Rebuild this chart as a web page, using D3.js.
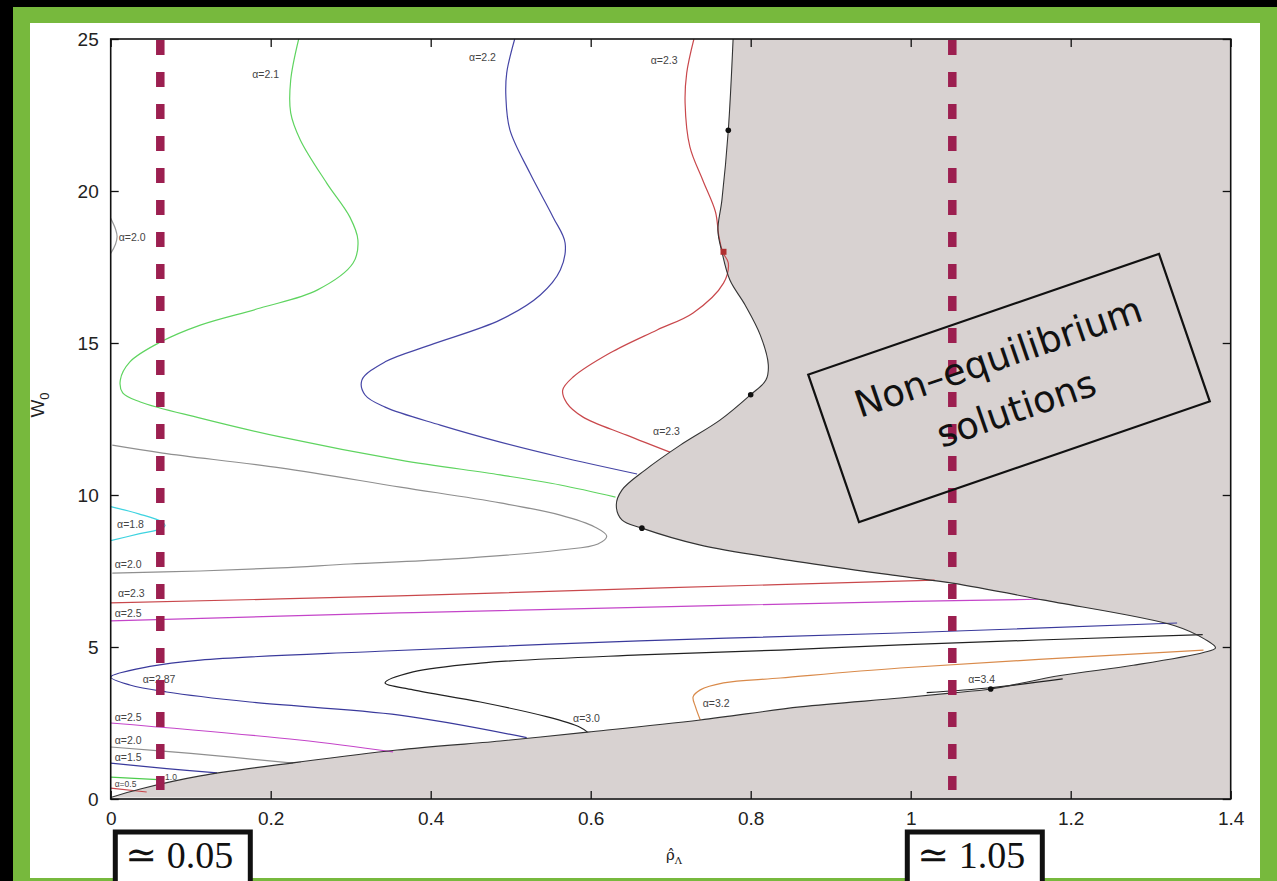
<!DOCTYPE html>
<html>
<head>
<meta charset="utf-8">
<script src="https://cdn.jsdelivr.net/npm/d3@7"></script>
<style>
  html, body { margin: 0; padding: 0; background: #000; }
  svg { display: block; }
</style>
</head>
<body>
<svg width="1277" height="881"></svg>
<script>
// boundary of the non-equilibrium region (rho, W0), top -> tip -> origin
var boundary = [[0.778,25],[0.772,22.0],[0.764,19.7],[0.759,18.7],[0.764,18.0],[0.774,17.07],
  [0.793,16.25],[0.812,15.26],[0.822,14.28],[0.819,13.78],[0.80,13.3],[0.762,12.47],[0.712,11.64],
  [0.668,10.82],[0.639,10.16],[0.632,9.67],[0.639,9.18],[0.664,8.91],[0.736,8.36],[0.861,7.80],
  [0.987,7.33],[1.052,7.10],[1.165,6.55],[1.330,5.70],[1.368,5.25],[1.381,4.97],[1.366,4.82],
  [1.278,4.40],[1.187,4.06],[1.10,3.62],[1.052,3.49],[0.987,3.32],[0.862,3.03],[0.737,2.60],
  [0.596,2.20],[0.487,1.91],[0.358,1.61],[0.237,1.22],[0.112,0.76],[0.037,0.33],[0,0.05]];

var a21 = [[0.235,25],[0.225,23.65],[0.225,22.57],[0.237,21.68],[0.270,20.26],[0.299,19.14],
  [0.309,18.39],[0.303,17.63],[0.258,16.74],[0.187,16.15],[0.112,15.59],[0.062,15.03],[0.024,14.38],
  [0.012,13.78],[0.015,13.36],[0.037,13.06],[0.112,12.53],[0.212,11.91],[0.362,11.15],[0.487,10.66],
  [0.562,10.33],[0.631,9.93]];

var a22 = [[0.505,25],[0.495,23.88],[0.494,23.09],[0.499,22.01],[0.524,20.59],[0.553,19.14],
  [0.568,18.29],[0.562,17.40],[0.537,16.58],[0.487,15.76],[0.399,14.93],[0.343,14.38],[0.314,13.78],
  [0.318,13.29],[0.343,12.89],[0.412,12.30],[0.487,11.74],[0.562,11.25],[0.658,10.69]];

var a23top = [[0.729,25],[0.720,23.88],[0.718,22.89],[0.724,21.45],[0.740,20.36],[0.756,19.31],
  [0.760,18.55],[0.765,17.99],[0.772,17.63],[0.766,16.97],[0.728,15.99],[0.683,15.43],[0.624,14.67],
  [0.578,13.88],[0.565,13.45],[0.570,13.03],[0.590,12.57],[0.645,11.97],[0.699,11.41]];

var a20arc = [[0,19.1],[0.006,18.75],[0.008,18.5],[0.006,18.25],[0,17.95]];

var a20loop = [[0.002,11.64],[0.065,11.38],[0.212,10.89],[0.362,10.26],[0.487,9.74],[0.562,9.34],
  [0.605,8.95],[0.620,8.65],[0.609,8.39],[0.562,8.19],[0.424,7.89],[0.299,7.73],[0.212,7.60],
  [0.112,7.50],[0.002,7.43]];

var a18 = [[0,9.62],[0.035,9.38],[0.064,9.12],[0.068,9.0],[0.064,8.9],[0.035,8.72],[0,8.50]];

var a23low = [[0,6.45],[0.36,6.68],[0.70,6.95],[1.03,7.20]];

var a25up = [[0,5.86],[0.36,6.12],[0.70,6.33],[1.0,6.50],[1.16,6.57]];

var a287 = [[1.333,5.79],[0.986,5.46],[0.661,5.20],[0.336,4.86],[0.112,4.57],[0.049,4.36],
  [0,4.01],[0.024,3.75],[0.070,3.52],[0.174,3.19],[0.361,2.76],[0.520,2.02]];

var a25low = [[0,2.5],[0.236,1.94],[0.353,1.55]];
var a20low = [[0,1.71],[0.10,1.50],[0.228,1.18]];
var a15 = [[0,1.18],[0.07,1.0],[0.133,0.86]];
var a10 = [[0,0.72],[0.065,0.63]];
var a05 = [[0,0.36],[0.045,0.23]];

var a30 = [[1.365,5.41],[0.987,5.07],[0.837,4.90],[0.662,4.74],[0.462,4.47],[0.378,4.18],
  [0.343,3.82],[0.378,3.59],[0.462,3.19],[0.546,2.70],[0.586,2.37],[0.596,2.20]];

var a32 = [[0.737,2.60],[0.731,3.03],[0.728,3.36],[0.737,3.59],[0.766,3.82],[0.837,3.98],
  [0.987,4.31],[1.366,4.90]];

var a34 = [[1.02,3.50],[1.10,3.66],[1.19,3.95]];

var curves = [
  {pts: a21, color: "#5fd460"}, {pts: a22, color: "#4646a6"}, {pts: a23top, color: "#c9484c"},
  {pts: a20arc, color: "#9a9a9a"}, {pts: a20loop, color: "#8f8f8f"}, {pts: a18, color: "#3ed3e0"},
  {pts: a23low, color: "#c9484c"}, {pts: a25up, color: "#c445c9"}, {pts: a287, color: "#3a3a9c"},
  {pts: a25low, color: "#c445c9"}, {pts: a20low, color: "#8f8f8f"}, {pts: a15, color: "#3a3a9c"},
  {pts: a10, color: "#4ccc4c"}, {pts: a05, color: "#c9484c"}, {pts: a30, color: "#222"},
  {pts: a32, color: "#d98a4a"}, {pts: a34, color: "#222"}
];

var labels = [["α=2.1",0.177,23.85],["α=2.2",0.448,24.41],["α=2.3",0.675,24.31],["α=2.3",0.678,12.11],
  ["α=2.0",0.010,18.49],["α=1.8",0.008,9.05],["α=2.0",0.005,7.73],["α=2.3",0.009,6.78],
  ["α=2.5",0.005,6.12],["α=2.87",0.040,3.95],["α=2.5",0.005,2.70],["α=2.0",0.005,1.94],
  ["α=1.5",0.005,1.38],["α=0.5",0.005,0.53],["1.0",0.068,0.76],["α=3.0",0.578,2.66],
  ["α=3.2",0.740,3.16],["α=3.4",1.072,3.95]];

var dots = [[0.772,22.0],[0.80,13.3],[0.664,8.91],[1.10,3.62]];
var squares = [[0.766,18.0]];

var cutoffs = [0.062, 1.052];
var cutoffText = ["≃ 0.05", "≃ 1.05"];
var xTicks = [0, 0.2, 0.4, 0.6, 0.8, 1, 1.2, 1.4];
var yTicks = [0, 5, 10, 15, 20, 25];

var svg = d3.select("svg");

// frame: black edge, green band, white sheet
svg.append("rect").attr("x", 13).attr("y", 7).attr("width", 1264).attr("height", 874).attr("fill", "#77b93d");
svg.append("rect").attr("x", 30).attr("y", 23).attr("width", 1230).attr("height", 855).attr("fill", "#fff");

var x = d3.scaleLinear().domain([0, 1.4]).range([110.7, 1230.7]);
var y = d3.scaleLinear().domain([0, 25]).range([799, 39]);

svg.append("clipPath").attr("id", "clip").append("rect")
  .attr("x", x(0)).attr("y", y(25)).attr("width", x(1.4) - x(0)).attr("height", y(0) - y(25));

var line = d3.line().x(function(d) { return x(d[0]); }).y(function(d) { return y(d[1]); })
  .curve(d3.curveCatmullRom.alpha(0.5));

var plot = svg.append("g").attr("clip-path", "url(#clip)");

// gray non-equilibrium region
plot.append("path")
  .attr("d", line(boundary) + "L" + x(1.4) + "," + y(0) + "L" + x(1.4) + "," + y(25) + "Z")
  .attr("fill", "#d8d2d1").attr("stroke", "none");

plot.selectAll("path.curve").data(curves).enter().append("path")
  .attr("class", "curve")
  .attr("d", function(d) { return line(d.pts); })
  .attr("fill", "none")
  .attr("stroke", function(d) { return d.color; })
  .attr("stroke-width", 1.2);

plot.append("path").attr("d", line(boundary)).attr("fill", "none")
  .attr("stroke", "#333").attr("stroke-width", 1.1);

plot.selectAll("circle.dot").data(dots).enter().append("circle")
  .attr("cx", function(d) { return x(d[0]); }).attr("cy", function(d) { return y(d[1]); })
  .attr("r", 2.8).attr("fill", "#111");

plot.selectAll("rect.sq").data(squares).enter().append("rect")
  .attr("x", function(d) { return x(d[0]) - 3; }).attr("y", function(d) { return y(d[1]) - 3; })
  .attr("width", 6).attr("height", 6).attr("fill", "#b03030");

plot.selectAll("text.lab").data(labels).enter().append("text")
  .attr("x", function(d) { return x(d[1]); }).attr("y", function(d) { return y(d[2]) + 4; })
  .attr("font-family", "Liberation Sans, Arial, sans-serif")
  .attr("font-size", function(d) { return d[0] === "α=0.5" || d[0] === "1.0" ? 8.5 : 10.5; })
  .attr("fill", "#444")
  .text(function(d) { return d[0]; });

// axes with inward ticks on all four sides
function fmt(d) { return String(+d.toFixed(1)); }
var gx = svg.append("g").attr("transform", "translate(0," + y(0) + ")")
  .call(d3.axisBottom(x).tickValues(xTicks).tickFormat(fmt).tickSizeInner(-8).tickSizeOuter(0).tickPadding(13));
var gy = svg.append("g").attr("transform", "translate(" + x(0) + ",0)")
  .call(d3.axisLeft(y).tickValues(yTicks).tickSizeInner(-8).tickSizeOuter(0).tickPadding(12));
svg.append("g").attr("transform", "translate(0," + y(25) + ")")
  .call(d3.axisTop(x).tickValues(xTicks).tickFormat("").tickSizeInner(-8).tickSizeOuter(0));
svg.append("g").attr("transform", "translate(" + x(1.4) + ",0)")
  .call(d3.axisRight(y).tickValues(yTicks).tickFormat("").tickSizeInner(-8).tickSizeOuter(0));
svg.selectAll(".domain").remove();
svg.selectAll(".tick line").attr("stroke", "#111").attr("stroke-width", 1.3);
svg.selectAll(".tick text").attr("font-family", "Liberation Sans, Arial, sans-serif")
  .attr("font-size", 19).attr("fill", "#222");

svg.append("rect").attr("x", x(0)).attr("y", y(25)).attr("width", x(1.4) - x(0)).attr("height", y(0) - y(25))
  .attr("fill", "none").attr("stroke", "#111").attr("stroke-width", 1.6);

// axis titles
var yt = svg.append("text").attr("transform", "translate(44," + 405 + ") rotate(-90)")
  .attr("text-anchor", "middle").attr("font-family", "Liberation Sans, Arial, sans-serif")
  .attr("font-size", 19).attr("fill", "#222");
yt.append("tspan").text("W");
yt.append("tspan").attr("font-size", 13).attr("dy", 5).text("0");

var xt = svg.append("text").attr("x", 666).attr("y", 860)
  .attr("font-family", "DejaVu Serif, serif").attr("font-size", 15).attr("fill", "#222");
xt.append("tspan").text("ρ\u0302");
xt.append("tspan").attr("font-size", 10).attr("dy", 4).text("Λ");

// dashed cutoff lines
svg.selectAll("line.cut").data(cutoffs).enter().append("line")
  .attr("class", "cut")
  .attr("x1", function(d) { return x(d); }).attr("x2", function(d) { return x(d); })
  .attr("y1", y(25) + 1).attr("y2", y(0) - 9)
  .attr("stroke", "#9c1f50").attr("stroke-width", 8.5)
  .attr("stroke-dasharray", "15,17");

// rotated annotation box
var note = svg.append("g").attr("transform", "translate(1009,388) rotate(-19)");
note.append("rect").attr("x", -185.5).attr("y", -78).attr("width", 371).attr("height", 156)
  .attr("fill", "none").attr("stroke", "#111").attr("stroke-width", 2.2);
note.selectAll("text").data(["Non–equilibrium", "solutions"]).enter().append("text")
  .attr("x", 0).attr("y", function(d, i) { return i === 0 ? -33 : 22; })
  .attr("dy", "0.35em").attr("text-anchor", "middle")
  .attr("font-family", "DejaVu Sans, sans-serif").attr("font-size", 37).attr("fill", "#111")
  .text(function(d) { return d; });

// cutoff value boxes under the axis
var boxes = svg.selectAll("g.cb").data(cutoffs).enter().append("g").attr("class", "cb")
  .attr("transform", function(d) { return "translate(" + (x(d) - 45) + ",832)"; });
boxes.append("rect").attr("width", 135).attr("height", 52)
  .attr("fill", "#fff").attr("stroke", "#111").attr("stroke-width", 5);
boxes.append("text").attr("x", 10).attr("y", 36)
  .attr("font-family", "Liberation Serif, DejaVu Serif, serif").attr("font-size", 38).attr("fill", "#111")
  .text(function(d, i) { return cutoffText[i]; });
</script>
</body>
</html>
